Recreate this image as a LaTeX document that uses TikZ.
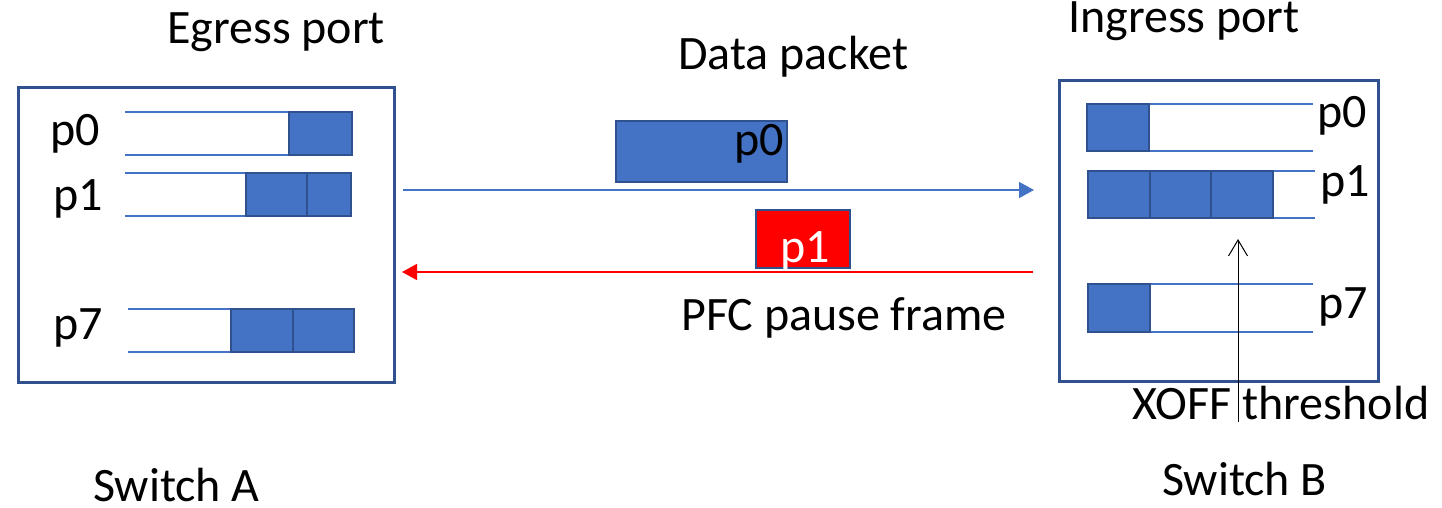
\documentclass[tikz,border=0pt]{standalone}
\usepackage{fontspec}
\setmainfont{Carlito}
\usetikzlibrary{arrows.meta}
\definecolor{qblue}{HTML}{4472C4}
\definecolor{qedge}{HTML}{2F528F}
\begin{document}
\begin{tikzpicture}[x=1pt,y=-1pt,
  lbl/.style={anchor=base west, inner sep=0pt, font=\fontsize{48}{57}\selectfont},
  switchbox/.style={draw=qedge, line width=2.6pt, rectangle, inner sep=0pt, anchor=north west},
  qline/.style={draw=qblue, line width=1.4pt},
  pkt/.style={draw=qedge, fill=qblue, line width=2pt},
  flow/.style={line width=1.5pt},
]
\useasboundingbox (0,0) rectangle (1442,508);

% switch port boxes
\node[switchbox, minimum width=376pt, minimum height=295pt] (swA) at (17,86) {};
\node[switchbox, minimum width=319pt, minimum height=301pt] (swB) at (1058,79) {};

% egress queues of switch A
\draw[qline] (125,112) -- (352,112) (125,155) -- (352,155);
\draw[pkt] (289,112) rectangle (352,155);
\draw[qline] (125,173) -- (351,173) (125,216) -- (351,216);
\draw[pkt] (246,173) rectangle (307,216) (307,173) rectangle (351,216);
\draw[qline] (128,309) -- (354,309) (128,352) -- (354,352);
\draw[pkt] (231,309) rectangle (293,352) (293,309) rectangle (354,352);

\node[lbl] (qa0) at (50,146) {p0};
\node[lbl] (qa1) at (53,210) {p1};
\node[lbl] (qa7) at (53,339) {p7};

% ingress queues of switch B
\draw[qline] (1087,104) -- (1313,104) (1087,151) -- (1313,151);
\draw[pkt] (1087,104) rectangle (1149,151);
\draw[qline] (1088,171) -- (1315,171) (1088,218) -- (1315,218);
\draw[pkt] (1088,171) rectangle (1150,218) (1150,171) rectangle (1211,218) (1211,171) rectangle (1273,218);
\draw[qline] (1088,284) -- (1313,284) (1088,332) -- (1313,332);
\draw[pkt] (1088,284) rectangle (1150,332);

\node[lbl] (qb0) at (1317,128) {p0};
\node[lbl] (qb1) at (1320,196) {p1};
\node[lbl] (qb7) at (1318,318) {p7};

% titles
\node[lbl] (egress) at (167,44) {Egress port};
\node[lbl] (ingress) at (1068,33) {Ingress port};
\node[lbl] (data) at (678,70) {Data packet};
\node[lbl] (pfc) at (681,330) {PFC pause frame};
\node[lbl] (swAname) at (93,501) {Switch A};
\node[lbl] (swBname) at (1162,495) {Switch B};
\node[lbl] (xoff) at (1132,419) {XOFF threshold};

% packets on the link
\node[pkt, rectangle, inner sep=0pt, anchor=north west, minimum width=171pt, minimum height=61pt] (datapkt) at (615,120) {};
\node[lbl, anchor=base east] (datalbl) at (784,155) {p0};
\node[pkt, fill=red, rectangle, inner sep=0pt, anchor=north west, minimum width=94pt, minimum height=58pt] (pausepkt) at (755,209) {};
\node[lbl, text=white] (pauselbl) at (780,262) {p1};

% link arrows
\coordinate (dataFrom) at (403,190);
\coordinate (dataTo) at (1034,190);
\coordinate (pauseFrom) at (1033,272);
\coordinate (pauseTo) at (402,272);
\draw[flow, qblue, -{Triangle[length=15pt,width=16pt]}] (dataFrom) -- (dataTo);
\draw[flow, red, -{Triangle[length=15pt,width=16pt]}] (pauseFrom) -- (pauseTo);

% XOFF threshold marker
\coordinate (xoffFoot) at (1238,422);
\coordinate (xoffTip) at (1238,239);
\draw[line width=1pt, -{Straight Barb[length=16pt,width=19pt]}] (xoffFoot) -- (xoffTip);
\end{tikzpicture}
\end{document}
